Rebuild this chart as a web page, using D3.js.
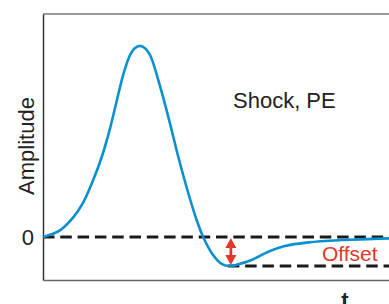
<!DOCTYPE html>
<html>
<head>
<meta charset="utf-8">
<script src="https://cdn.jsdelivr.net/npm/d3@7"></script>
<style>
  body { margin: 0; background: #fff; }
  svg text { font-family: Arial, "Liberation Sans", Helvetica, sans-serif; }
</style>
</head>
<body>
<div id="chart"></div>
<script>
// curve (t in arbitrary units, amplitude normalised to peak)
var tValues   = [0, 0.49, 0.88, 1.16, 1.45, 1.70, 1.94, 2.13, 2.32, 2.51, 2.65, 2.80, 2.95, 3.10, 3.33, 3.62, 3.91, 4.20, 4.44, 4.63, 4.88, 5.16, 5.40, 5.64, 6.03, 6.51, 6.99, 7.67, 8.63, 10.0];
var ampValues = [0, 0.035, 0.104, 0.180, 0.298, 0.420, 0.570, 0.712, 0.850, 0.950, 0.988, 1.0, 0.988, 0.950, 0.822, 0.630, 0.420, 0.229, 0.089, 0, -0.085, -0.141, -0.152, -0.143, -0.120, -0.077, -0.047, -0.028, -0.016, -0.007];
var yTicks = [0];
var offsetT = 5.40;      // where the trough sits
var offsetValue = -0.152;
var labels = { y: "Amplitude", x: "t", title: "Shock, PE", offset: "Offset" };

var data = tValues.map(function (t, i) { return { t: t, amp: ampValues[i] }; });

var W = 389, H = 304;
var margin = { top: 14, right: 0, bottom: 24, left: 43 };
var width = W - margin.left - margin.right,
    height = H - margin.top - margin.bottom;

var svg = d3.select("#chart").append("svg")
    .attr("width", W)
    .attr("height", H)
  .append("g")
    .attr("transform", "translate(" + margin.left + "," + margin.top + ")");

var x = d3.scaleLinear().domain([0, 10]).range([0, width]);
var y = d3.scaleLinear().domain([-0.225, 1.167]).range([height, 0]);

// frame: top line
svg.append("line")
    .attr("x1", 0).attr("x2", width)
    .attr("y1", 0).attr("y2", 0)
    .attr("stroke", "#7a7a7a").attr("stroke-width", 1.5);

var yAxis = svg.append("g")
    .call(d3.axisLeft(y).tickValues(yTicks).tickSize(0).tickPadding(9).tickFormat(d3.format("d")));
yAxis.select(".domain").attr("stroke", "#333").attr("stroke-width", 1.5);
yAxis.selectAll("text").attr("font-size", 22).attr("fill", "#222")
    .style("font-family", "Arial, 'Liberation Sans', sans-serif");

var xAxis = svg.append("g")
    .attr("transform", "translate(0," + height + ")")
    .call(d3.axisBottom(x).tickValues([]).tickSize(0).tickSizeOuter(0));
xAxis.select(".domain").attr("stroke", "#666").attr("stroke-width", 1.5);

// dashed reference lines
svg.append("line")
    .attr("x1", x(0)).attr("x2", x(10))
    .attr("y1", y(0)).attr("y2", y(0))
    .attr("stroke", "#1a1a1a").attr("stroke-width", 3)
    .attr("stroke-dasharray", "11.5,5.8");

svg.append("line")
    .attr("x1", x(offsetT) - 2).attr("x2", x(10))
    .attr("y1", y(offsetValue)).attr("y2", y(offsetValue))
    .attr("stroke", "#1a1a1a").attr("stroke-width", 3)
    .attr("stroke-dasharray", "11.5,5.8");

// the waveform
var line = d3.line()
    .x(function (d) { return x(d.t); })
    .y(function (d) { return y(d.amp); })
    .curve(d3.curveCatmullRom.alpha(0.5));

svg.append("path")
    .datum(data)
    .attr("fill", "none")
    .attr("stroke", "#0a8fcf")
    .attr("stroke-width", 2.6)
    .attr("d", line);

// offset arrow
var red = "#e2372a";
var ax = x(offsetT) + 1, y0 = y(0) + 1, y1 = y(offsetValue) - 1;
svg.append("line")
    .attr("x1", ax).attr("x2", ax)
    .attr("y1", y0 + 6).attr("y2", y1 - 6)
    .attr("stroke", red).attr("stroke-width", 2.8);
svg.append("path")
    .attr("fill", red)
    .attr("d", "M" + ax + "," + y0 + "L" + (ax - 5.5) + "," + (y0 + 10) + "L" + (ax + 5.5) + "," + (y0 + 10) + "Z");
svg.append("path")
    .attr("fill", red)
    .attr("d", "M" + ax + "," + y1 + "L" + (ax - 5.5) + "," + (y1 - 10) + "L" + (ax + 5.5) + "," + (y1 - 10) + "Z");

// texts
svg.append("text")
    .attr("x", 322 - margin.left).attr("y", 261 - margin.top)
    .attr("font-size", 21).attr("fill", red)
    .text(labels.offset);

svg.append("text")
    .attr("x", 233 - margin.left).attr("y", 108 - margin.top)
    .attr("font-size", 22).attr("fill", "#222")
    .text(labels.title);

svg.append("text")
    .attr("transform", "translate(" + (34 - margin.left) + "," + (146 - margin.top) + ") rotate(-90)")
    .attr("text-anchor", "middle")
    .attr("font-size", 22).attr("fill", "#222")
    .text(labels.y);

svg.append("text")
    .attr("x", 345 - margin.left).attr("y", 308 - margin.top)
    .attr("text-anchor", "middle")
    .attr("font-size", 22).attr("font-weight", "bold").attr("fill", "#222")
    .text(labels.x);
</script>
</body>
</html>
